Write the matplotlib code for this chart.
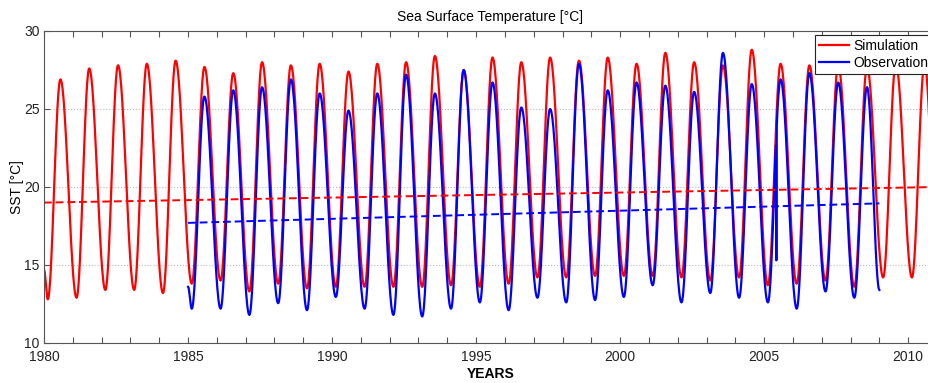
"""Sea surface temperature: simulation vs observations with linear trends."""

import numpy as np
import matplotlib

matplotlib.use("Agg")
import matplotlib.pyplot as plt
from matplotlib.ticker import FixedLocator

plt.rcParams["font.family"] = ["Liberation Sans", "DejaVu Sans"]

# Simulation: yearly summer peak and winter trough (degC)
sim_years = np.arange(1980, 2011)
sim_peaks = [26.9, 27.6, 27.8, 27.9, 28.1, 27.7, 27.3, 28.0, 27.8, 27.9,
             27.4, 27.9, 28.0, 28.4, 27.5, 28.3, 28.0, 28.3, 28.1, 28.3,
             27.9, 28.6, 28.0, 27.8, 28.8, 27.9, 27.8, 27.8, 27.7, 27.9, 27.9]
sim_troughs = [12.8, 12.9, 13.4, 13.4, 13.2, 13.8, 14.0, 13.3, 13.8, 13.5,
               13.6, 13.6, 13.6, 13.6, 13.7, 13.6, 13.8, 14.2, 14.2, 14.3,
               14.3, 14.3, 14.2, 14.0, 14.2, 13.7, 13.8, 14.0, 13.6, 14.2, 14.2]
sim_start = 14.7   # 1 Jan 1980
sim_end = 16.0     # 1 Jan 2011

# Observations
obs_years = np.arange(1985, 2009)
obs_peaks = [25.8, 26.2, 26.4, 26.9, 26.0, 24.9, 26.0, 27.2, 26.0, 27.5,
             26.7, 25.1, 25.0, 27.9, 26.2, 26.7, 26.5, 26.1, 28.6, 26.6,
             26.9, 27.3, 26.7, 26.4]
obs_troughs = [12.2, 12.2, 11.8, 12.55, 12.1, 12.95, 12.2, 11.8, 11.7, 12.2,
               12.6, 12.1, 12.9, 12.6, 12.75, 12.95, 13.7, 12.6, 13.2, 12.9,
               12.6, 12.2, 13.3, 12.9]
obs_start = 13.6   # 1 Jan 1985
obs_end = 13.4     # 1 Jan 2009
# single bad reading in spring 2005
obs_dip_years = [2005.42]
obs_dip_values = [15.3]

# Linear trend end points
sim_trend_years = [1980, 2011]
sim_trend = [19.0, 20.0]
obs_trend_years = [1985, 2009]
obs_trend = [17.7, 18.95]

TROUGH_PHASE = 0.13   # fraction of year where the winter minimum sits
PEAK_PHASE = 0.57     # fraction of year where the summer maximum sits


def seasonal_curve(years, peaks, troughs, start, end, n=30):
    """Join the read extremes with half-cosine segments."""
    t_knots = [years[0]]
    v_knots = [start]
    for yr, lo, hi in zip(years, troughs, peaks):
        t_knots += [yr + TROUGH_PHASE, yr + PEAK_PHASE]
        v_knots += [lo, hi]
    t_knots.append(years[-1] + 1)
    v_knots.append(end)

    s = np.linspace(0, 1, n, endpoint=False)
    t, v = [], []
    for i in range(len(t_knots) - 1):
        t0, t1 = t_knots[i], t_knots[i + 1]
        v0, v1 = v_knots[i], v_knots[i + 1]
        t.append(t0 + (t1 - t0) * s)
        v.append(v0 + (v1 - v0) * (1 - np.cos(np.pi * s)) / 2)
    t.append([t_knots[-1]])
    v.append([v_knots[-1]])
    return np.concatenate(t), np.concatenate(v)


sim_t, sim_v = seasonal_curve(sim_years, sim_peaks, sim_troughs, sim_start, sim_end)
obs_t, obs_v = seasonal_curve(obs_years, obs_peaks, obs_troughs, obs_start, obs_end)
for yr, val in zip(obs_dip_years, obs_dip_values):
    obs_v[np.argmin(np.abs(obs_t - yr))] = val

W, H = 929, 383
fig = plt.figure(figsize=(W / 100, H / 100), dpi=100)
ax = fig.add_axes([44 / W, 40 / H, (937 - 44) / W, 312 / H])

ax.plot(sim_t, sim_v, color="#ff0000", linewidth=1.6, label="Simulation")
ax.plot(obs_t, obs_v, color="#0000ff", linewidth=1.6, label="Observations")
ax.plot(sim_trend_years, sim_trend, color="#ff0000", linewidth=1.4,
        linestyle=(0, (4, 2)))
ax.plot(obs_trend_years, obs_trend, color="#0000ff", linewidth=1.4,
        linestyle=(0, (4, 2)))

ax.set_xlim(1980, 2011)
ax.set_ylim(10, 30)
ax.xaxis.set_major_locator(FixedLocator(np.arange(1980, 2011, 5)))
ax.xaxis.set_minor_locator(FixedLocator(np.arange(1980, 2012, 1)))
ax.yaxis.set_major_locator(FixedLocator(np.arange(10, 31, 5)))
ax.tick_params(which="both", direction="in", top=True, right=True,
               length=4, width=0.8, color="#555555")
ax.tick_params(labelsize=10, labelcolor="#222222")
ax.tick_params(axis="x", pad=5)
ax.tick_params(axis="y", pad=3)
for sp in ax.spines.values():
    sp.set_color("#555555")
    sp.set_linewidth(0.8)
ax.yaxis.grid(True, linestyle=":", color="#bbbbbb", linewidth=0.8)

ax.set_title("Sea Surface Temperature [°C]", fontsize=10, pad=7)
ax.set_xlabel("YEARS", fontsize=10, fontweight="bold", labelpad=2)
ax.set_ylabel("SST [°C]", fontsize=10, labelpad=0)

leg = ax.legend(loc="upper left", bbox_to_anchor=(0.863, 0.987), borderaxespad=0,
                fontsize=10, fancybox=False, framealpha=1, edgecolor="#222222",
                handlelength=2.2, handletextpad=0.3, borderpad=0.3, labelspacing=0.2)
leg.get_frame().set_linewidth(0.8)

fig.savefig("out.png", dpi=100)
